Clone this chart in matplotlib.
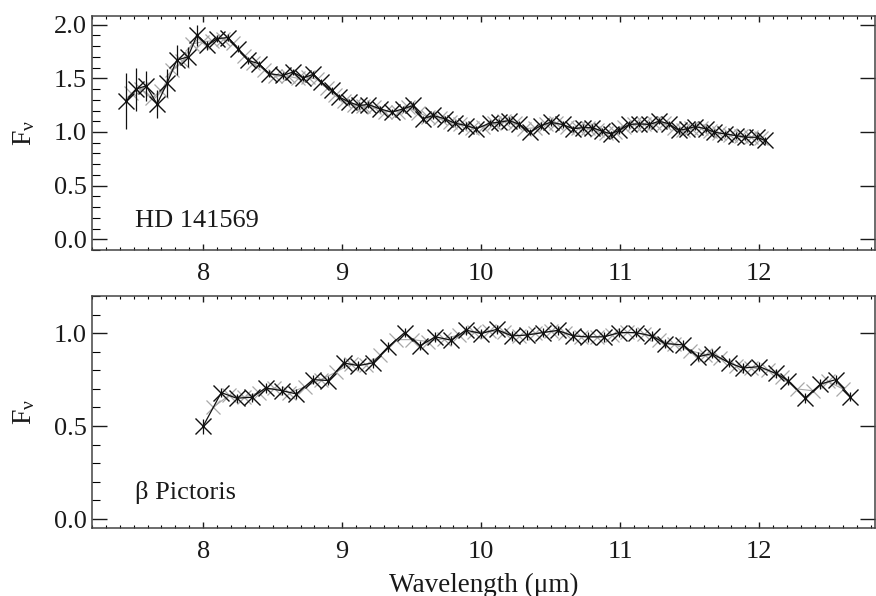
import matplotlib
matplotlib.use('Agg')
import matplotlib.pyplot as plt
from matplotlib.ticker import MultipleLocator

# HD 141569, main (black) spectrum
hd_wl = [7.447, 7.517, 7.59, 7.668, 7.74, 7.81, 7.89, 7.955, 8.03, 8.10,
         8.18, 8.25, 8.325, 8.40, 8.476, 8.572, 8.644, 8.72, 8.79, 8.85,
         8.924, 8.98, 9.05, 9.12, 9.187, 9.27, 9.355, 9.44, 9.51, 9.58,
         9.655, 9.737, 9.81, 9.893, 9.965, 10.06, 10.13, 10.20, 10.275, 10.35,
         10.43, 10.50, 10.585, 10.66, 10.73, 10.80, 10.87, 10.93, 10.99, 11.065,
         11.137, 11.21, 11.28, 11.35, 11.42, 11.48, 11.54, 11.616, 11.675, 11.75,
         11.83, 11.90, 11.985, 12.04]
hd_flux = [1.29, 1.40, 1.43, 1.26, 1.455, 1.67, 1.70, 1.90, 1.807, 1.87,
           1.88, 1.776, 1.667, 1.636, 1.543, 1.527, 1.558, 1.505, 1.536, 1.465,
           1.387, 1.325, 1.278, 1.247, 1.256, 1.216, 1.185, 1.216, 1.247, 1.123,
           1.154, 1.123, 1.082, 1.06, 1.03, 1.082, 1.09, 1.107, 1.07, 0.998,
           1.06, 1.09, 1.07, 1.03, 1.04, 1.04, 1.007, 0.983, 1.014, 1.07,
           1.076, 1.07, 1.10, 1.076, 1.014, 1.03, 1.05, 1.03, 0.998, 0.983,
           0.967, 0.951, 0.951, 0.921]
hd_err = [0.26, 0.20, 0.14, 0.13, 0.13, 0.14, 0.09, 0.10, 0.04, 0.03,
          0.03, 0.03, 0.03, 0.03, 0.03, 0.03, 0.03, 0.03, 0.03, 0.03,
          0.03, 0.03, 0.03, 0.03, 0.03, 0.03, 0.03, 0.03, 0.03, 0.03,
          0.03, 0.03, 0.03, 0.03, 0.03, 0.03, 0.03, 0.03, 0.03, 0.03,
          0.03, 0.03, 0.03, 0.03, 0.03, 0.03, 0.03, 0.03, 0.03, 0.03,
          0.03, 0.03, 0.03, 0.03, 0.03, 0.03, 0.03, 0.03, 0.03, 0.03,
          0.03, 0.03, 0.03, 0.03]

# HD 141569, second (grey) spectrum
hd_wl2 = [7.48, 7.553, 7.63, 7.70, 7.775, 7.85, 7.92, 7.99, 8.065, 8.14,
          8.215, 8.29, 8.36, 8.44, 8.52, 8.61, 8.68, 8.755, 8.82, 8.89,
          8.95, 9.015, 9.085, 9.15, 9.23, 9.31, 9.40, 9.475, 9.545, 9.62,
          9.70, 9.775, 9.85, 9.93, 10.01, 10.095, 10.165, 10.24, 10.31, 10.39,
          10.465, 10.54, 10.62, 10.695, 10.765, 10.835, 10.90, 10.96, 11.03, 11.10,
          11.17, 11.245, 11.315, 11.385, 11.45, 11.51, 11.58, 11.645, 11.71, 11.79,
          11.865, 11.94, 12.01]
hd_flux2 = [1.36, 1.40, 1.32, 1.38, 1.58, 1.66, 1.82, 1.84, 1.85, 1.87,
            1.83, 1.71, 1.64, 1.58, 1.52, 1.52, 1.50, 1.51, 1.49, 1.41,
            1.34, 1.29, 1.25, 1.24, 1.23, 1.19, 1.19, 1.23, 1.18, 1.14,
            1.13, 1.09, 1.07, 1.04, 1.05, 1.08, 1.10, 1.08, 1.03, 1.04,
            1.07, 1.08, 1.05, 1.04, 1.04, 1.02, 0.99, 1.00, 1.05, 1.07,
            1.07, 1.08, 1.08, 1.04, 1.02, 1.04, 1.04, 1.01, 0.99, 0.97,
            0.96, 0.95, 0.94]

# beta Pictoris, main (black) spectrum
bp_wl = [8.0, 8.13, 8.24, 8.35, 8.45, 8.57, 8.67, 8.79, 8.90, 9.01,
         9.115, 9.22, 9.33, 9.45, 9.56, 9.67, 9.785, 9.89, 10.0, 10.11,
         10.22, 10.33, 10.445, 10.55, 10.66, 10.77, 10.886, 10.99, 11.11, 11.23,
         11.32, 11.45, 11.56, 11.66, 11.78, 11.88, 12.0, 12.12, 12.21, 12.33,
         12.44, 12.55, 12.655]
bp_flux = [0.50, 0.68, 0.65, 0.655, 0.705, 0.69, 0.673, 0.75, 0.745, 0.84,
           0.825, 0.84, 0.926, 1.003, 0.932, 0.98, 0.962, 1.016, 0.998, 1.02,
           0.985, 0.99, 1.003, 1.015, 0.985, 0.98, 0.98, 1.003, 1.003, 0.985,
           0.944, 0.937, 0.873, 0.89, 0.842, 0.812, 0.82, 0.783, 0.744, 0.651,
           0.726, 0.75, 0.658]
bp_err = [0.04] + [0.025] * 42

# beta Pictoris, second (grey) spectrum
bp_wl2 = [8.07, 8.185, 8.295, 8.40, 8.51, 8.62, 8.73, 8.845, 8.955, 9.06,
          9.17, 9.275, 9.39, 9.505, 9.615, 9.73, 9.84, 9.945, 10.055, 10.165,
          10.275, 10.39, 10.50, 10.605, 10.715, 10.83, 10.94, 11.05, 11.17, 11.275,
          11.385, 11.505, 11.61, 11.72, 11.83, 11.94, 12.06, 12.165, 12.27, 12.385,
          12.495, 12.60]
bp_flux2 = [0.60, 0.665, 0.655, 0.68, 0.705, 0.68, 0.71, 0.75, 0.79, 0.835,
            0.83, 0.88, 0.965, 0.965, 0.955, 0.97, 0.99, 1.005, 1.01, 1.005,
            0.985, 1.0, 1.01, 1.0, 0.98, 0.98, 0.99, 1.005, 0.995, 0.965,
            0.94, 0.905, 0.885, 0.865, 0.825, 0.815, 0.80, 0.765, 0.70, 0.69,
            0.74, 0.70]

plt.rcParams['font.family'] = ['Liberation Serif', 'DejaVu Serif']
plt.rcParams['mathtext.fontset'] = 'stix'

INK = '#1a1a1a'


def style(ax, ylim, ymajor):
	ax.set_xlim(7.2, 12.83)
	ax.set_ylim(*ylim)
	ax.xaxis.set_major_locator(MultipleLocator(1))
	ax.xaxis.set_minor_locator(MultipleLocator(0.1))
	ax.yaxis.set_major_locator(MultipleLocator(ymajor))
	ax.yaxis.set_minor_locator(MultipleLocator(0.1))
	ax.yaxis.set_major_formatter(plt.FormatStrFormatter('%.1f'))
	ax.tick_params(axis='x', which='major', direction='in', length=4, width=1,
	               top=True, bottom=True, pad=9, labelsize=19, colors=INK)
	ax.tick_params(axis='x', which='minor', direction='in', length=2.5, width=0.8,
	               top=True, bottom=True)
	ax.tick_params(axis='y', which='major', direction='in', length=11, width=1,
	               left=True, right=True, pad=4, labelsize=19, colors=INK)
	ax.tick_params(axis='y', which='minor', direction='in', length=6, width=0.8,
	               left=True, right=False)
	for s in ax.spines.values():
		s.set_linewidth(1.1)
		s.set_color('#444444')
	ax.set_ylabel(r'$\mathregular{F_{\nu}}$', fontsize=20, color=INK, labelpad=12)


def spectrum(ax, wl, fl, wl2, fl2, err):
	ax.plot(wl2, fl2, '-', color='#a8a8a8', lw=0.8, marker='x', ms=10, mew=0.9, zorder=2)
	ax.errorbar(wl, fl, yerr=err, fmt='-', color='#111111', lw=0.9, elinewidth=0.9,
	            capsize=0, marker='x', ms=11, mew=1.0, zorder=3)


fig = plt.figure(figsize=(8.76, 5.96), dpi=100)
ax1 = fig.add_axes([0.105, 0.5805, 0.8935, 0.3925])
ax2 = fig.add_axes([0.105, 0.1136, 0.8935, 0.3898])

spectrum(ax1, hd_wl, hd_flux, hd_wl2, hd_flux2, hd_err)
style(ax1, (-0.1, 2.08), 0.5)
ax1.text(7.51, 0.17, 'HD 141569', fontsize=19, va='center', color=INK)

spectrum(ax2, bp_wl, bp_flux, bp_wl2, bp_flux2, bp_err)
style(ax2, (-0.05, 1.2), 0.5)
ax2.text(7.51, 0.14, '\u03b2 Pictoris', fontsize=19, va='center', color=INK)
ax2.set_xlabel('Wavelength (\u03bcm)', fontsize=19.5, color=INK, labelpad=7)

fig.savefig('out.png', dpi=100)
